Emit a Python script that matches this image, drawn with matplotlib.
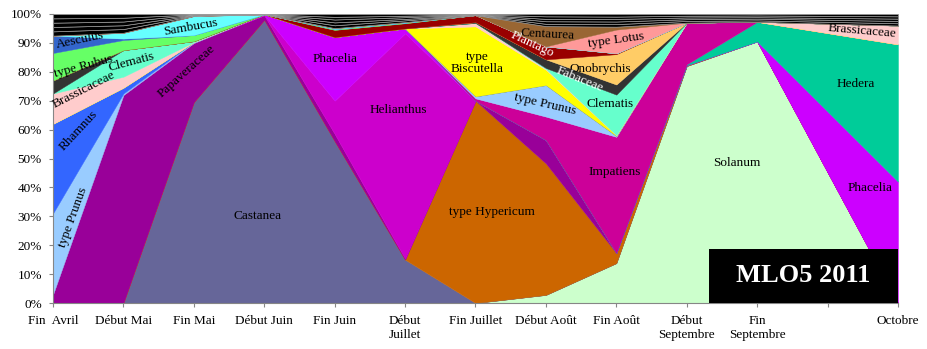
import matplotlib
matplotlib.use("Agg")
import matplotlib.pyplot as plt
from matplotlib.patches import Rectangle

plt.rcParams['font.family'] = ['Liberation Serif', 'DejaVu Serif']

# prélèvements (Octobre après une colonne vide)
periodes = ['Fin  Avril', 'Début Mai', 'Fin Mai', 'Début Juin', 'Fin Juin', 'Début\nJuillet',
            'Fin Juillet', 'Début Août', 'Fin Août', 'Début\nSeptembre', 'Fin\nSeptembre', '', 'Octobre']
x = [0, 1, 2, 3, 4, 5, 6, 7, 8, 9, 10, 12]

# pourcentages de pollen, empilés de bas en haut
solanum    = [0, 0, 0, 0, 0, 0, 0, 2.8, 13.8, 82, 90.5, 0]
castanea   = [0, 0, 69.5, 98, 56, 15, 0, 0, 0, 0, 0, 0]
hypericum  = [0, 0, 0, 0, 0, 0, 70, 45.5, 3.5, 0.3, 0, 0]
papaver    = [3, 72, 20.5, 1.5, 2.5, 0.3, 0, 8.1, 0, 0, 0, 0]
helianthus = [0, 0, 0, 0.2, 11.5, 78, 0, 0, 0, 0, 0, 0]
phacelia   = [0, 0, 0, 0.2, 22, 1.7, 0, 0, 0, 0, 0, 42]
hedera     = [0, 0, 0, 0, 0, 0, 0, 0, 0, 0.3, 6.8, 47.5]
impatiens  = [0, 0, 0, 0, 0, 0, 0.8, 8.1, 40.2, 14.4, 0, 0]
prunus     = [28, 0.5, 0.3, 0, 0, 0, 0.7, 10.9, 0.3, 0, 0, 0]
rhamnus    = [31, 2, 0, 0, 0, 0, 0, 0, 0, 0, 0, 0]
biscutella = [0, 0, 0, 0, 0, 0, 24.2, 5.3, 0.3, 0, 0, 0]
brassic    = [10.5, 3.8, 0, 0, 0, 0, 1.2, 0.3, 0, 0, 0, 6.5]
clematis   = [0, 9.2, 0.3, 0, 0, 0, 0, 0.3, 14.0, 0, 0, 0]
fabaceae   = [4.5, 0, 0, 0, 0, 0, 0.3, 3.0, 3.5, 0, 0, 0]
onobrychis = [0, 0, 0, 0, 0, 0, 0, 0, 10.5, 0, 0, 0]
plantago   = [0, 0, 0, 0, 2.5, 1.8, 2.4, 4.5, 0.3, 0, 0, 0]
rubus      = [9.5, 3.5, 2.1, 0, 0.3, 0.2, 0, 0, 0, 0, 0, 0]
aesculus   = [6, 0.5, 0, 0, 0, 0, 0, 0, 0, 0, 0, 0]
sambucus   = [0, 2, 6.6, 0, 0.3, 0.2, 0, 0, 0, 0, 0, 0]
lotus      = [0, 0, 0, 0, 0, 0, 0, 0, 8.2, 0, 0, 0]
centaurea  = [0, 0, 0, 0, 0, 0, 0, 7, 1, 0, 0, 0]
# taxons minoritaires (noir)
autres_a   = [1.5, 1.3, 0.15, 0.02, 1.0, 0.6, 0.08, 0.8, 0.9, 0.6, 0.5, 0.8]
autres_b   = [1.5, 1.3, 0.15, 0.02, 1.0, 0.5, 0.08, 0.9, 0.9, 0.6, 0.6, 0.8]
autres_c   = [1.5, 1.3, 0.15, 0.02, 1.0, 0.6, 0.08, 0.8, 0.9, 0.6, 0.5, 0.8]
autres_d   = [1.5, 1.3, 0.15, 0.02, 0.9, 0.5, 0.08, 0.9, 0.8, 0.6, 0.6, 0.8]
autres_e   = [1.5, 1.3, 0.10, 0.02, 1.0, 0.6, 0.08, 0.8, 0.9, 0.6, 0.5, 0.8]

series = [solanum, castanea, hypericum, papaver, helianthus, phacelia, hedera, impatiens,
          prunus, rhamnus, biscutella, brassic, clematis, fabaceae, onobrychis, plantago,
          rubus, aesculus, sambucus, lotus, centaurea,
          autres_a, autres_b, autres_c, autres_d, autres_e]
couleurs = ['#CCFFCC', '#666699', '#CC6600', '#990099', '#CC00CC', '#CC00FF', '#00CC99', '#CC0099',
            '#99CCFF', '#3366FF', '#FFFF00', '#FFCCCC', '#66FFCC', '#333333', '#FFCC66', '#990000',
            '#66FF66', '#3366CC', '#66FFFF', '#FF9999', '#996633',
            '#000000', '#000000', '#000000', '#000000', '#000000']

fig = plt.figure(figsize=(9.28, 3.49), dpi=100)
ax = fig.add_axes([53/928, 1 - 303/349, 845/928, 289/349])

polys = ax.stackplot(x, *series, colors=couleurs, linewidth=0)
for p, c in zip(polys, couleurs):
    if c == '#000000':
        p.set_edgecolor('#9a9a9a')
        p.set_linewidth(0.5)
    else:
        p.set_edgecolor(c)
        p.set_linewidth(0.3)

ax.set_xlim(0, 12)
ax.set_ylim(0, 100)
ax.set_xticks(range(13))
ax.set_xticklabels(periodes, fontsize=9.5)
ax.set_yticks(range(0, 101, 10))
ax.set_yticklabels([f'{v}%' for v in range(0, 101, 10)], fontsize=9.5)
ax.tick_params(axis='both', color='#868686', length=3, width=0.8)
ax.tick_params(axis='x', pad=6)
ax.tick_params(axis='y', pad=5)
for s in ['top', 'right']:
    ax.spines[s].set_visible(False)
for s in ['left', 'bottom']:
    ax.spines[s].set_color('#868686')

# étiquettes des taxons
etiquettes = [
    ('Aesculus', 0.38, 91, 12, 'black'),
    ('type Rubus', 0.44, 81.7, 15, 'black'),
    ('Clematis', 1.12, 83.4, 15, 'black'),
    ('Sambucus', 1.95, 95.5, 10, 'black'),
    ('Brassicaceae', 0.44, 73.7, 27, 'black'),
    ('Papaveraceae', 1.89, 80.3, 42, 'black'),
    ('Rhamnus', 0.36, 59.5, 47, 'black'),
    ('type Prunus', 0.28, 29.8, 70, 'black'),
    ('Castanea', 2.91, 30.1, 0, 'black'),
    ('Phacelia', 4.0, 84.4, 0, 'black'),
    ('Helianthus', 4.9, 66.8, 0, 'black'),
    ('type\nBiscutella', 6.02, 83, 0, 'black'),
    ('type Hypericum', 6.23, 31.5, 0, 'black'),
    ('Plantago', 6.8, 89.6, -25, 'white'),
    ('Centaurea', 7.03, 93, -3, 'black'),
    ('type Lotus', 8.0, 91, 8, 'black'),
    ('Onobrychis', 7.77, 81, 0, 'black'),
    ('Fabaceae', 7.48, 77.5, -22, 'white'),
    ('type Prunus', 6.99, 68.9, -13, 'black'),
    ('Clematis', 7.91, 68.9, 0, 'black'),
    ('Impatiens', 7.97, 45.3, 0, 'black'),
    ('Solanum', 9.71, 48.4, 0, 'black'),
    ('Hedera', 11.4, 75.8, 0, 'black'),
    ('Brassicaceae', 11.49, 94.1, -5, 'black'),
    ('Phacelia', 11.6, 39.8, 0, 'black'),
]
for txt, tx, ty, rot, col in etiquettes:
    ax.text(tx, ty, txt, rotation=rot, color=col, fontsize=9.5, ha='center', va='center',
            linespacing=1.0, rotation_mode='anchor')

ax.add_patch(Rectangle((656/845, 0), 1 - 656/845, 54/289, transform=ax.transAxes,
                       facecolor='black', edgecolor='none', zorder=5))
ax.text((656/845 + 1) / 2, 27/289, 'MLO5 2011', transform=ax.transAxes, color='white',
        fontsize=19, fontweight='bold', ha='center', va='center', zorder=6)

fig.savefig('out.png', dpi=100)
